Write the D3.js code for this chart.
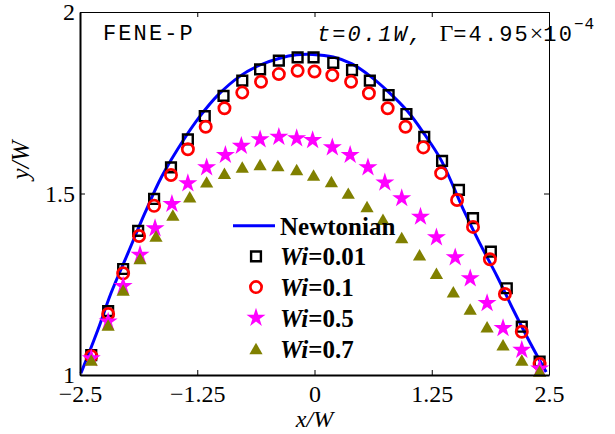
<!DOCTYPE html>
<html>
<head>
<meta charset="utf-8">
<script src="https://cdn.jsdelivr.net/npm/d3@7"></script>
<style>
  html, body { margin: 0; padding: 0; background: #fff; }
  svg { display: block; }
  .tick text { font-family: "Liberation Serif", "Times New Roman", serif; font-size: 24px; fill: #000; }
</style>
</head>
<body>
<svg id="chart" width="615" height="434"></svg>
<script>
// Droplet profile y/W versus x/W for FENE-P drops at several Weissenberg numbers
const xTicks = [-2.5, -1.25, 0, 1.25, 2.5];
const xTickLabels = ["\u22122.5", "\u22121.25", "0", "1.25", "2.5"];
const yTicks = [1, 1.5, 2];
const yTickLabels = ["1", "1.5", "2"];

// Newtonian reference profile
const newtX = [-2.49,-2.31,-2.17,-1.99,-1.81,-1.63,-1.39,-1.22,-1.03,-0.79,-0.58,-0.38,-0.19,-0.02,0.20,0.40,0.59,0.78,0.99,1.17,1.35,1.58,1.76,1.95,2.12,2.30,2.47];
const newtY = [1.005,1.124,1.225,1.335,1.445,1.546,1.650,1.713,1.771,1.824,1.854,1.872,1.882,1.883,1.876,1.857,1.824,1.782,1.727,1.664,1.592,1.460,1.364,1.270,1.179,1.088,1.008];

// Wi = 0.01
const wi001X = [-2.38,-2.20,-2.04,-1.88,-1.71,-1.53,-1.35,-1.17,-0.97,-0.77,-0.58,-0.38,-0.18,-0.01,0.20,0.40,0.59,0.79,0.98,1.17,1.36,1.54,1.69,1.88,2.05,2.21,2.40];
const wi001Y = [1.055,1.176,1.292,1.397,1.485,1.572,1.649,1.713,1.769,1.811,1.842,1.866,1.875,1.875,1.860,1.840,1.811,1.771,1.719,1.656,1.590,1.510,1.432,1.340,1.239,1.133,1.037];

// Wi = 0.1
const wi01X = [-2.38,-2.20,-2.04,-1.87,-1.71,-1.53,-1.35,-1.16,-0.96,-0.77,-0.57,-0.38,-0.18,0.00,0.19,0.39,0.58,0.78,0.97,1.16,1.35,1.52,1.69,1.87,2.03,2.21,2.40];
const wi01Y = [1.052,1.168,1.280,1.383,1.466,1.551,1.622,1.684,1.735,1.778,1.808,1.829,1.838,1.836,1.826,1.808,1.776,1.735,1.684,1.627,1.556,1.482,1.408,1.319,1.223,1.119,1.030];

// Wi = 0.5
const wi05X = [-2.38,-2.20,-2.04,-1.86,-1.70,-1.52,-1.35,-1.15,-0.95,-0.78,-0.58,-0.38,-0.19,-0.02,0.19,0.38,0.57,0.75,0.93,1.13,1.30,1.50,1.66,1.84,2.01,2.21,2.40];
const wi05Y = [1.046,1.147,1.245,1.331,1.404,1.471,1.528,1.572,1.606,1.631,1.649,1.656,1.652,1.647,1.627,1.606,1.572,1.530,1.487,1.436,1.379,1.324,1.266,1.198,1.129,1.069,1.018];

// Wi = 0.7
const wi07X = [-2.38,-2.20,-2.04,-1.86,-1.69,-1.51,-1.33,-1.15,-0.96,-0.77,-0.58,-0.39,-0.19,-0.01,0.18,0.36,0.56,0.73,0.93,1.12,1.30,1.48,1.66,1.84,2.01,2.21,2.40];
const wi07Y = [1.041,1.138,1.234,1.321,1.383,1.441,1.491,1.532,1.556,1.573,1.580,1.577,1.566,1.551,1.533,1.501,1.464,1.429,1.379,1.331,1.280,1.229,1.182,1.133,1.083,1.041,1.011];

const svg = d3.select("#chart");
const plotLeft = 80, plotRight = 549, plotTop = 12, plotBottom = 375;

const x = d3.scaleLinear().domain([-2.5, 2.5]).range([plotLeft, plotRight]);
const y = d3.scaleLinear().domain([1, 2]).range([plotBottom, plotTop]);

const zip = (xs, ys) => xs.map((v, i) => [v, ys[i]]);

// Newtonian curve
svg.append("path")
  .datum(zip(newtX, newtY))
  .attr("fill", "none")
  .attr("stroke", "#0000ff")
  .attr("stroke-width", 3)
  .attr("d", d3.line().x(d => x(d[0])).y(d => y(d[1])).curve(d3.curveCatmullRom));

// marker styles per series
const series = [
  { name: "0.01", xs: wi001X, ys: wi001Y, type: d3.symbolSquare, size: 96, fill: "none", stroke: "#000", sw: 2.4, dy: 0 },
  { name: "0.1",  xs: wi01X,  ys: wi01Y,  type: d3.symbolCircle, size: 100, fill: "none", stroke: "#ff0000", sw: 2.7, dy: 0 },
  { name: "0.5",  xs: wi05X,  ys: wi05Y,  type: d3.symbolStar, size: 112, fill: "#ff00ff", stroke: "none", sw: 0, dy: 0 },
  { name: "0.7",  xs: wi07X,  ys: wi07Y,  type: d3.symbolTriangle, size: 76, fill: "#808000", stroke: "none", sw: 0, dy: 1.9 }
];

series.forEach(s => {
  svg.append("g").selectAll("path")
    .data(zip(s.xs, s.ys))
    .join("path")
    .attr("d", d3.symbol().type(s.type).size(s.size))
    .attr("transform", d => `translate(${x(d[0])},${y(d[1]) + s.dy})`)
    .attr("fill", s.fill)
    .attr("stroke", s.stroke)
    .attr("stroke-width", s.sw);
});

// axes: ticks point inward on all four sides
const axB = d3.axisBottom(x).tickValues(xTicks).tickFormat((d, i) => xTickLabels[i]).tickSizeInner(-5).tickSizeOuter(0).tickPadding(10);
const axT = d3.axisTop(x).tickValues(xTicks).tickFormat("").tickSizeInner(-5).tickSizeOuter(0);
const axL = d3.axisLeft(y).tickValues(yTicks).tickFormat((d, i) => yTickLabels[i]).tickSizeInner(-5).tickSizeOuter(0).tickPadding(5);
const axR = d3.axisRight(y).tickValues(yTicks).tickFormat("").tickSizeInner(-5).tickSizeOuter(0);

const gT = svg.append("g").attr("transform", `translate(0,${plotTop})`).call(axT);
const gR = svg.append("g").attr("transform", `translate(${plotRight},0)`).call(axR);
const gB = svg.append("g").attr("transform", `translate(0,${plotBottom})`).call(axB);
const gL = svg.append("g").attr("transform", `translate(${plotLeft},0)`).call(axL);
[gT, gR].forEach(g => g.select(".domain").attr("stroke", "#000").attr("stroke-width", 1));
[gB, gL].forEach(g => g.select(".domain").attr("stroke", "#000").attr("stroke-width", 2));
svg.selectAll(".tick line").attr("stroke", "#000").attr("stroke-width", 1);
gB.selectAll(".tick text").attr("font-size", 24);
gL.selectAll(".tick text").attr("font-size", 24);

// axis titles
const serif = "Liberation Serif, Times New Roman, serif";
svg.append("text")
  .attr("x", (plotLeft + plotRight) / 2).attr("y", 427)
  .attr("text-anchor", "middle")
  .attr("font-family", serif)
  .attr("font-style", "italic").attr("font-size", 24)
  .text("x/W");

svg.append("text")
  .attr("transform", "translate(29,160) rotate(-90)")
  .attr("text-anchor", "middle")
  .attr("font-family", serif)
  .attr("font-style", "italic").attr("font-size", 25)
  .text("y/W");

// in-plot annotations
const mono = "Liberation Mono, Courier New, monospace";
svg.append("text")
  .attr("x", 103).attr("y", 40)
  .attr("font-family", mono).attr("font-size", 22).attr("letter-spacing", 2.1)
  .text("FENE-P");

const ann = svg.append("text")
  .attr("x", 317).attr("y", 41)
  .attr("font-family", mono).attr("font-size", 22).attr("letter-spacing", 2.1);
ann.append("tspan").attr("font-style", "italic").text("t=0.1W, ");
ann.append("tspan").attr("font-family", serif).attr("font-size", 24).attr("letter-spacing", 0).text("\u0393");
ann.append("tspan").text("=4.95");
ann.append("tspan").attr("font-family", serif).attr("font-size", 24).attr("letter-spacing", 0).text("\u00d7");
ann.append("tspan").text("10");
ann.append("tspan").attr("font-size", 16).attr("letter-spacing", 1).attr("dy", -12).text("\u22124");

// legend
const legX = 256, legTextX = 280, legY0 = 225.7, legStep = 30.7;
svg.append("line")
  .attr("x1", 233).attr("x2", 275).attr("y1", legY0).attr("y2", legY0)
  .attr("stroke", "#0000ff").attr("stroke-width", 3);
svg.append("text")
  .attr("x", legTextX).attr("y", legY0 + 9)
  .attr("font-family", serif).attr("font-weight", "bold").attr("font-size", 25)
  .text("Newtonian");

series.forEach((s, i) => {
  const cy = legY0 + legStep * (i + 1);
  svg.append("path")
    .attr("d", d3.symbol().type(s.type).size(s.size))
    .attr("transform", `translate(${legX},${cy + s.dy})`)
    .attr("fill", s.fill).attr("stroke", s.stroke).attr("stroke-width", s.sw);
  const t = svg.append("text")
    .attr("x", legTextX).attr("y", cy + 9)
    .attr("font-family", serif).attr("font-weight", "bold").attr("font-size", 25);
  t.append("tspan").attr("font-style", "italic").text("Wi");
  t.append("tspan").text("=" + s.name);
});
</script>
</body>
</html>
